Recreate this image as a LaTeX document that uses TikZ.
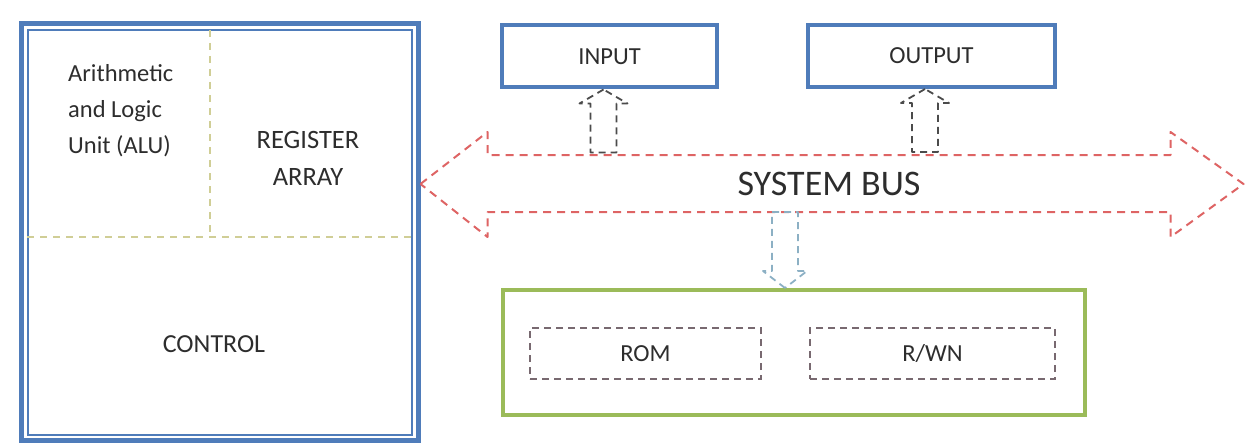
\documentclass[tikz,border=0pt]{standalone}
\usepackage{fontspec}
\setmainfont{Carlito}
\usetikzlibrary{positioning}
\definecolor{boxblue}{RGB}{79,124,186}
\definecolor{boxgreen}{RGB}{155,187,89}
\definecolor{busred}{RGB}{222,100,100}
\definecolor{divline}{RGB}{208,206,150}
\definecolor{memcyan}{RGB}{140,176,196}
\definecolor{arrgray}{RGB}{75,75,75}
\definecolor{cellgray}{RGB}{120,105,112}
\definecolor{txtgray}{RGB}{45,45,45}

\begin{document}
\begin{tikzpicture}[x=1pt,y=-1pt,font=\fontsize{24.5}{36}\selectfont,text=txtgray,
unit/.style={draw=boxblue, line width=5pt, inner sep=0pt},
iobox/.style={draw=boxblue, line width=4pt, minimum height=62pt},
membox/.style={draw=boxgreen, line width=4pt, minimum width=582pt, minimum height=125pt},
cell/.style={draw=cellgray, dashed, line width=1.6pt, dash pattern=on 7pt off 5pt, minimum height=51pt},
divider/.style={draw=divline, line width=1.8pt, dash pattern=on 7pt off 6pt},
busline/.style={draw=busred, line width=2pt, dash pattern=on 8pt off 6pt, line join=round},
iobus/.style={draw=arrgray, line width=1.8pt, dash pattern=on 7pt off 5pt, line join=round},
membus/.style={draw=memcyan, line width=1.8pt, dash pattern=on 7pt off 5pt, line join=round}]
\useasboundingbox (0,0) rectangle (1248,444);
% processor unit
\node[unit, minimum width=397pt, minimum height=416pt] (cpu) at (219.5,232) {};
\node[draw=boxblue, line width=1.5pt, minimum width=384pt, minimum height=405pt] (core) at (220,232.5) {};
\draw[divider] (210,30) -- (210,237);
\draw[divider] (core.west |- 0,237) -- (core.east |- 0,237);
\node[anchor=north west, align=left, inner sep=0pt] (alu) at (68,64) {Arithmetic\\and Logic\\Unit (ALU)};
\node[align=center, font=\fontsize{26.5}{37}\selectfont] (reg) at (308,158) {REGISTER\\ARRAY};
\node[font=\fontsize{26}{30}\selectfont] (control) at (214,344) {CONTROL};
% peripherals
\node[iobox, minimum width=215pt] (input) at (609.5,56.5) {INPUT};
\node[iobox, minimum width=247pt] (output) at (931.5,56) {OUTPUT};
% memory
\node[membox] (mem) at (794,352.5) {};
\node[cell, minimum width=231pt] (rom) at (645.5,353.5) {ROM};
\node[cell, minimum width=245pt] (rwn) at (932.5,353.5) {R/WN};
% system bus
\node[font=\fontsize{36}{40}\selectfont] (bus) at (829,184) {SYSTEM BUS};
\coordinate (busL) at (cpu.east |- bus);
\draw[busline] (busL) -- ++(67,-52) -- ++(0,23) -- ++(683,0) -- ++(0,-23)
  -- ++(73,52) -- ++(-73,53) -- ++(0,-25) -- ++(-683,0) -- ++(0,25) -- cycle;
\draw[iobus] ([xshift=-6pt]input.south) -- ++(-24,14) -- ++(11,0) -- ++(0,49)
  -- ++(26,0) -- ++(0,-49) -- ++(11,0) -- cycle;
\draw[iobus] ([xshift=-6.5pt]output.south) -- ++(-24,14) -- ++(11,0) -- ++(0,49)
  -- ++(26,0) -- ++(0,-49) -- ++(11,0) -- cycle;
\draw[membus] ([xshift=-9pt]mem.north) -- ++(-22,-17) -- ++(9,0) -- ++(0,-59)
  -- ++(26,0) -- ++(0,59) -- ++(9,0) -- cycle;
\end{tikzpicture}
\end{document}
